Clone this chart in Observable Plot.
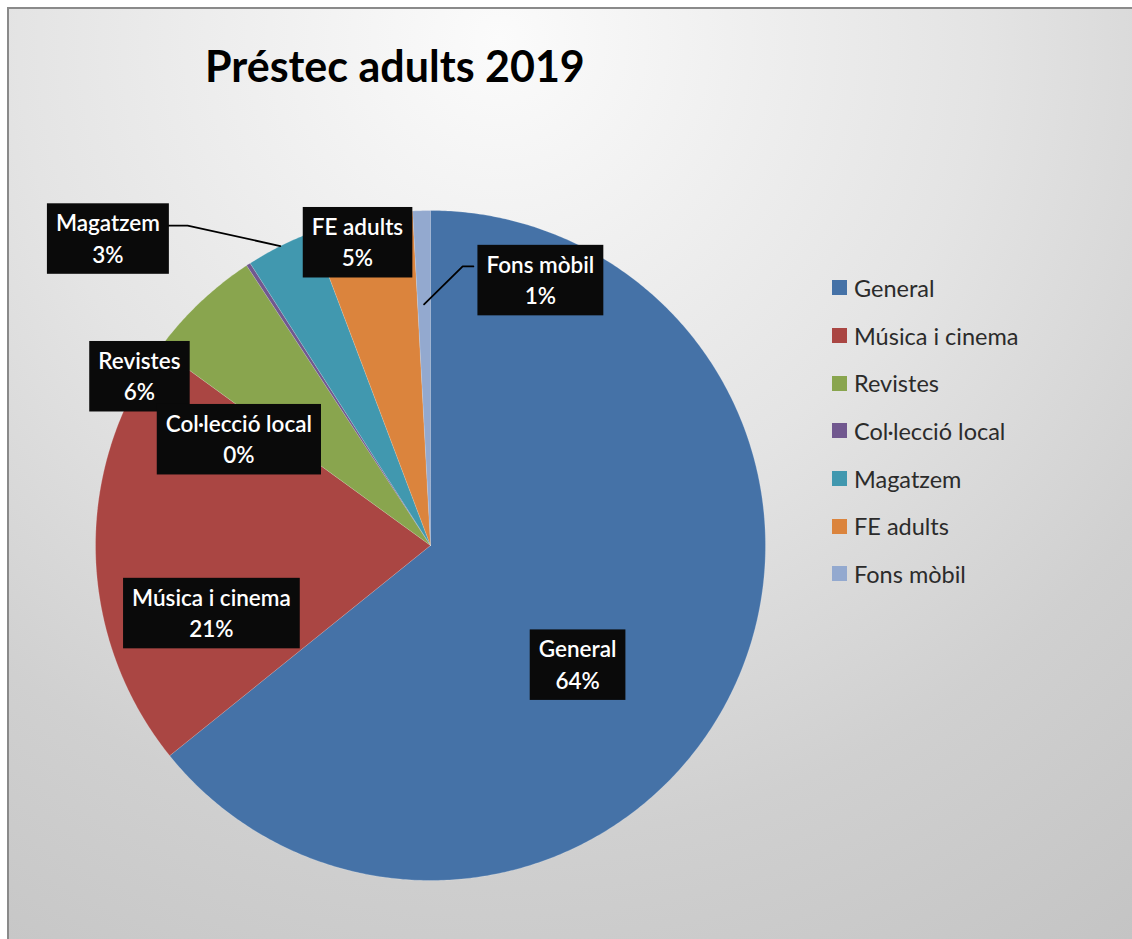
<!DOCTYPE html>
<html><head><meta charset="utf-8">
<script src="https://cdn.jsdelivr.net/npm/d3@7"></script>
<script src="https://cdn.jsdelivr.net/npm/@observablehq/plot@0.6"></script>
<style>
html,body{margin:0;padding:0;background:#fff;width:1132px;height:939px;overflow:hidden;}
#frame{position:absolute;left:7px;top:7px;width:1125px;height:932px;border-left:2px solid #8a8a8a;border-top:2px solid #8a8a8a;box-sizing:border-box;
 background:radial-gradient(circle at 490px 30px,#fbfbfb 0px,#e4e4e4 480px,#d0d0d0 800px,#c4c4c4 1100px);}
#chart{position:absolute;left:0;top:0;}
#title{position:absolute;left:205px;top:44px;font:bold 43px Lato,sans-serif;line-height:43px;color:#000;white-space:nowrap;}
#legend{position:absolute;left:832px;top:264px;font:23.5px Lato,sans-serif;color:#2b2b2b;}
#legend .row{height:47.7px;display:flex;align-items:center;}
#legend .sw{width:15px;height:15px;margin-right:7px;}
</style></head>
<body>
<div id="frame"></div>
<div id="title">Préstec adults 2019</div>
<div id="chart"></div>
<div id="legend"></div>
<script>
// ---- data ----
const categories = ["General","Música i cinema","Revistes","Col·lecció local","Magatzem","FE adults","Fons mòbil"];
const shares = [64.2, 20.8, 5.75, 0.2, 3.3, 4.9, 0.85];
const colors = ["#4572A7","#AA4643","#89A54E","#71588F","#4198AF","#DB843D","#93A9CF"];

// ---- layout (label centres in pie units) ----
const labelX = [0.439,-0.654,-0.869,-0.572,-0.963,-0.218,0.328];
const labelY = [-0.351,-0.197,0.510,0.322,0.921,0.910,0.797];
const leaderDefs = [
  {name:"Magatzem", pts:[[-0.955,0.955],[-0.725,0.955]], r:1.0},
  {name:"Fons mòbil", pts:[[0.128,0.833],[0.096,0.833]], r:0.72}
];

const total = d3.sum(shares);
const arcs = d3.pie().sort(null).value(d => d)(shares);
const slices = [];
arcs.forEach((a, i) => {
  const n = Math.max(2, Math.ceil((a.endAngle - a.startAngle) / (Math.PI / 360)));
  slices.push({name: categories[i], x: 0, y: 0});
  for (let k = 0; k <= n; k++) {
    const t = a.startAngle + (a.endAngle - a.startAngle) * k / n;
    slices.push({name: categories[i], x: Math.sin(t), y: Math.cos(t)});
  }
});

const leaders = [];
leaderDefs.forEach(L => {
  const a = arcs[categories.indexOf(L.name)];
  const m = (a.startAngle + a.endAngle) / 2;
  L.pts.forEach(p => leaders.push({name: L.name, x: p[0], y: p[1]}));
  leaders.push({name: L.name, x: L.r * Math.sin(m), y: L.r * Math.cos(m)});
});

const labels = categories.map((c, i) => ({
  name: c,
  text: c + "\n" + Math.round(shares[i] / total * 100) + "%",
  x: labelX[i], y: labelY[i]
}));

const plot = Plot.plot({
  width: 1132, height: 939, margin: 0,
  x: {domain: [-1, 1], range: [95, 765], axis: null},
  y: {domain: [-1, 1], range: [880, 210], axis: null},
  color: {domain: categories, range: colors},
  style: {background: "transparent", fontFamily: "Lato, sans-serif", overflow: "visible"},
  marks: [
    Plot.line(slices, {x: "x", y: "y", z: "name", fill: "name", stroke: "#ffffff", strokeOpacity: 0.25, strokeWidth: 0.8}),
    Plot.line(leaders, {x: "x", y: "y", z: "name", stroke: "#000", strokeWidth: 1.8}),
    Plot.text(labels, {x: "x", y: "y", text: "text", fill: "white", fontSize: 22.5, fontWeight: 600, lineHeight: 1.4, textAnchor: "middle", lineAnchor: "middle"})
  ]
});
document.getElementById("chart").append(plot);

// boxes behind each data label
plot.querySelectorAll('g[aria-label="text"] text').forEach(t => {
  const b = t.getBBox();
  const r = document.createElementNS("http://www.w3.org/2000/svg", "rect");
  r.setAttribute("x", b.x - 9);
  r.setAttribute("y", b.y - 6);
  r.setAttribute("width", b.width + 18);
  r.setAttribute("height", b.height + 12);
  r.setAttribute("fill", "#0a0a0a");
  const tr = t.getAttribute("transform");
  if (tr) r.setAttribute("transform", tr);
  t.parentNode.insertBefore(r, t);
});

// legend
const lg = document.getElementById("legend");
categories.forEach((c, i) => {
  const row = document.createElement("div"); row.className = "row";
  const sw = document.createElement("div"); sw.className = "sw"; sw.style.background = colors[i];
  const tx = document.createElement("span"); tx.textContent = c;
  row.append(sw, tx); lg.append(row);
});
</script>
</body></html>
